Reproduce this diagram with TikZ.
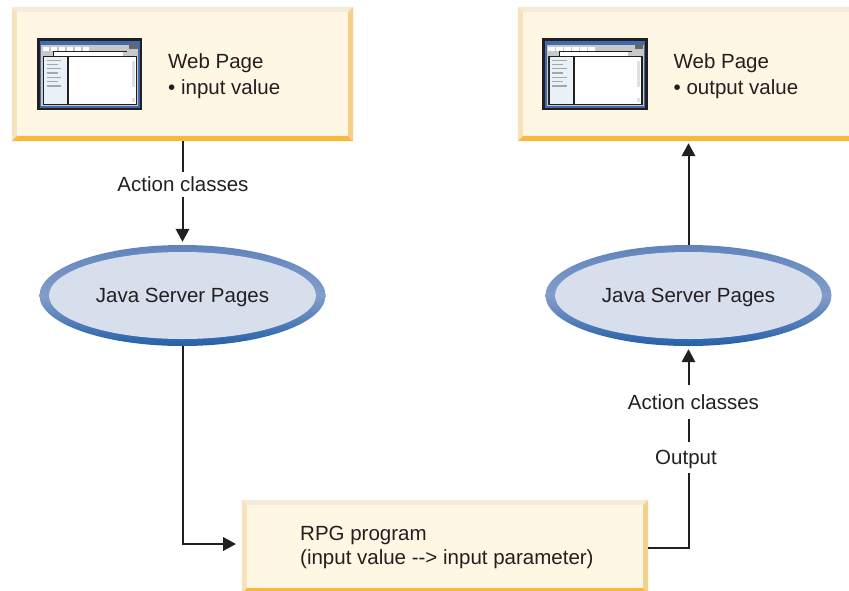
\documentclass[tikz,border=0pt]{standalone}
\usepackage{fontspec}
\setmainfont{Liberation Sans}
\usetikzlibrary{arrows.meta,shapes.geometric,calc}
\pgfdeclareverticalshading{jspshade}{100bp}{rgb(0bp)=(0.141,0.376,0.663); rgb(25bp)=(0.141,0.376,0.663); rgb(38bp)=(0.340,0.500,0.730); rgb(50bp)=(0.510,0.620,0.790); rgb(75bp)=(0.380,0.515,0.740); rgb(100bp)=(0.380,0.515,0.740)}
\newcommand{\PageBevel}[1]{
\fill[bevtop] (#1.north west) -- (#1.north east) -- ($(#1.north east)+(-5,5)$) -- ($(#1.north west)+(5,5)$) -- cycle;
\fill[bevleft] (#1.north west) -- (#1.south west) -- ($(#1.south west)+(5,-5)$) -- ($(#1.north west)+(5,5)$) -- cycle;
\fill[bevright] (#1.north east) -- (#1.south east) -- ($(#1.south east)+(-5,-5)$) -- ($(#1.north east)+(-5,5)$) -- cycle;
\fill[bevbottom] (#1.south west) -- (#1.south east) -- ($(#1.south east)+(-5,-5)$) -- ($(#1.south west)+(5,-5)$) -- cycle;
}
\newcommand{\WebIcon}[1]{
\begin{scope}[xshift=#1]
\fill[cink] (36.7,37.7) rectangle (142,110);
\fill[cframe] (39.5,40.5) rectangle (139.5,107.5);
\fill[cchrome] (41,44.5) rectangle (138,105.5);
\foreach \bx in {42.7,50.7,58.7,66.7,74.7,82.7}
  \fill[white] (\bx,46.7) rectangle +(6.6,4.3);
\fill[cbutton] (129,44) rectangle (137.7,48.7);
\fill[white] (53.8,52.3) rectangle (122.7,55.8);
\draw[cink,line width=0.8pt] (53.6,56) -- (53.6,51.3) -- (126.7,51.3);
\fill[cpane,draw=cink,line width=1.2pt] (43.2,56.5) rectangle (67.8,104.5);
\fill[white,draw=cink,line width=1.2pt] (68.8,56.5) rectangle (136.2,104.5);
\fill[cscroll] (131.5,61) rectangle (134.5,87);
\fill[cscroll] (131.5,98) rectangle (134.5,102);
\foreach \ly/\lx in {60.3/61,64.3/57.5,68.7/61,73/57.5,77.3/61,81.7/57.5,86/61}
  \draw[cmenu,line width=1.1pt] (46.7,\ly) -- (\lx,\ly);
\end{scope}
}
\begin{document}
\begin{tikzpicture}[x=1pt,y=-1pt,
  every node/.style={font=\fontsize{20.5}{26}\selectfont,text=cink},
  pagebox/.style={fill=cbody,minimum width=341pt,inner sep=0pt},
  pagetext/.style={anchor=west,align=left,inner sep=0pt},
  jspring/.style={ellipse,inner sep=0pt,minimum width=286pt,minimum height=101pt,shading=jspshade},
  jspface/.style={ellipse,inner sep=0pt,minimum width=267pt,minimum height=87pt,fill=cface,text height=16pt,text depth=3pt},
  flowlabel/.style={inner sep=0pt,text height=17pt,text depth=3pt},
  flow/.style={draw=cink,line width=2pt},
  flowtip/.style={flow,-{Triangle[width=13.5pt,length=13pt]}},
  bevtop/.style={fill=cbevt},bevleft/.style={fill=cbevl},
  bevright/.style={fill=cbevr},bevbottom/.style={fill=cbevb}]
%
\useasboundingbox (0,0) rectangle (849,590);
\clip (0,0) rectangle (849,590);
%
\definecolor{cink}{rgb}{0.137,0.122,0.125}
\definecolor{cbody}{rgb}{0.996,0.969,0.894}
\definecolor{cbevt}{rgb}{0.961,0.922,0.851}
\definecolor{cbevl}{rgb}{0.969,0.886,0.737}
\definecolor{cbevr}{rgb}{0.965,0.812,0.533}
\definecolor{cbevb}{rgb}{0.969,0.722,0.247}
\definecolor{cface}{rgb}{0.843,0.875,0.925}
\definecolor{cframe}{rgb}{0.247,0.424,0.690}
\definecolor{cchrome}{rgb}{0.784,0.784,0.784}
\definecolor{cscroll}{rgb}{0.880,0.880,0.880}
\definecolor{cbutton}{rgb}{0.400,0.400,0.400}
\definecolor{cpane}{rgb}{0.910,0.941,0.973}
\definecolor{cmenu}{rgb}{0.650,0.650,0.650}
%
\node[pagebox,minimum height=134pt] (page1) at (182.5,74) {};
\node[pagebox,minimum height=134pt] (page2) at (688.5,74) {};
\node[pagebox,minimum width=406pt,minimum height=93pt] (rpg) at (445,546.5) {};
\PageBevel{page1}
\PageBevel{page2}
\PageBevel{rpg}
%
\WebIcon{0pt}
\WebIcon{505.7pt}
%
\node[pagetext] (text1) at (168,76) {Web Page\\• input value};
\node[pagetext] (text2) at (673.5,76) {Web Page\\• output value};
\node[pagetext,font=\fontsize{20.5}{24.5}\selectfont] (rpgtext) at (300,547.5) {RPG program\\(input value -{}-> input parameter)};
%
\node[jspring] (jsp1) at (182.5,295.5) {};
\node[jspface] (face1) at (jsp1) {Java Server Pages};
\node[jspring] (jsp2) at (688.5,295.5) {};
\node[jspface] (face2) at (jsp2) {Java Server Pages};
%
\node[flowlabel,minimum height=25pt] (action1) at (183,184.5) {Action classes};
\node[flowlabel,minimum height=34pt] (action2) at (693.5,402.5) {Action classes};
\node[flowlabel,minimum height=31pt] (output) at (686,457.5) {Output};
%
\coordinate (rpgin) at (242,544);
\coordinate (rpgout) at (648,548);
%
\draw[flow] (page1) -- (182.5,172);
\draw[flowtip,shorten >=3pt] (182.5,197) -- (jsp1);
\draw[flowtip,shorten >=6pt] (jsp1) |- (rpgin);
\draw[flow] (rpgout) -| (688.5,473);
\draw[flow] (688.5,442) -- (688.5,419);
\draw[flowtip,shorten >=3pt] (688.5,385) -- (jsp2);
\draw[flowtip,shorten >=2pt] (jsp2) -- (page2);
%
\end{tikzpicture}
\end{document}
